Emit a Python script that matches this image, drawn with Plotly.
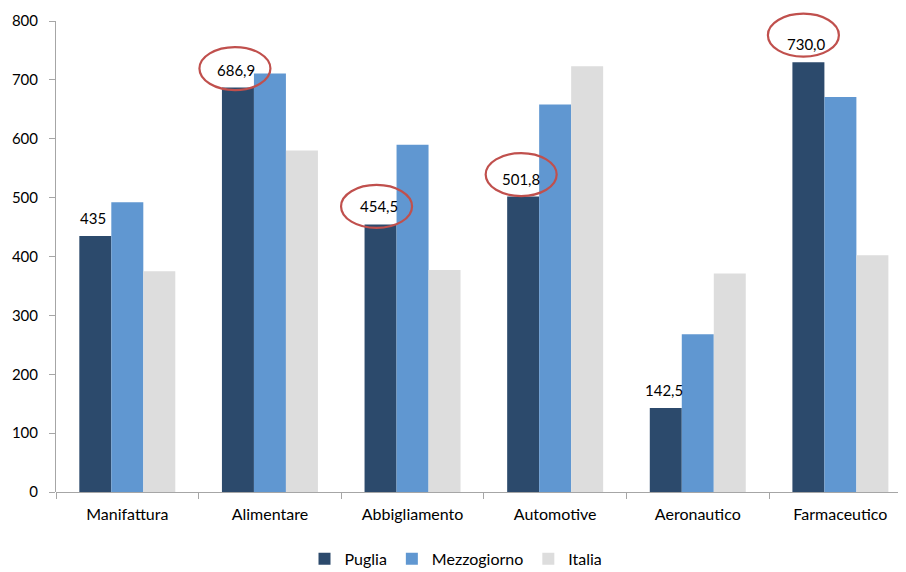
import plotly.graph_objects as go

categories = ["Manifattura", "Alimentare", "Abbigliamento", "Automotive", "Aeronautico", "Farmaceutico"]
puglia = [435, 686.9, 454.5, 501.8, 142.5, 730.0]
mezzogiorno = [492, 711, 590, 658, 268, 671]
italia = [375, 580, 377, 723, 371, 402]
puglia_labels = ["435", "686,9", "454,5", "501,8", "142,5", "730,0"]
circled = [False, True, True, True, False, True]
y_ticks = [0, 100, 200, 300, 400, 500, 600, 700, 800]

FONT = "Lato"
Y_MAX = 800
colors = {"Puglia": "#2C4A6C", "Mezzogiorno": "#6097D1", "Italia": "#DDDDDD"}
BARGAP = 0.327
bar_w = (1 - BARGAP) / 3

fig = go.Figure()
for name, vals in [("Puglia", puglia), ("Mezzogiorno", mezzogiorno), ("Italia", italia)]:
    fig.add_trace(go.Bar(
        x=categories, y=vals, name=name,
        marker=dict(color=colors[name], line=dict(width=0)),
    ))

# per-ellipse small pixel adjustments (dx, dy relative to label centre)
ell_adj = {1: (-1, 1), 2: (-2, 0), 3: (0, 4), 5: (-3, 9)}
for i, (v, lab) in enumerate(zip(puglia, puglia_labels)):
    xc = i - bar_w
    fig.add_annotation(
        x=xc, y=v, xref="x", yref="y", text=lab, showarrow=False,
        yshift=18, xshift=-2, yanchor="middle", xanchor="center",
        font=dict(family=FONT, size=15, color="#000000"),
    )
    if circled[i]:
        dx, dy = ell_adj.get(i, (0, 0))
        # yref paper (axis range 0..Y_MAX spans the full domain) so the
        # ellipse is not clipped at the top of the plot area
        fig.add_shape(
            type="circle", xref="x", yref="paper",
            xsizemode="pixel", ysizemode="pixel",
            xanchor=xc, yanchor=v / Y_MAX,
            x0=-2 + dx - 35.5, x1=-2 + dx + 35.5,
            y0=18 + dy - 21.5, y1=18 + dy + 21.5,
            line=dict(color="#C0504D", width=2.2),
            fillcolor="rgba(0,0,0,0)",
        )

fig.update_layout(
    width=898, height=564,
    margin=dict(l=48, r=0, t=13, b=80, autoexpand=False),
    paper_bgcolor="white", plot_bgcolor="white",
    barmode="group", bargap=BARGAP, bargroupgap=0,
    font=dict(family=FONT, size=16, color="#000000"),
    showlegend=True,
    legend=dict(
        orientation="h", x=0.4706, xanchor="center", y=-0.142, yanchor="middle",
        font=dict(family=FONT, size=16, color="#000000"),
        itemwidth=30, traceorder="normal",
    ),
    xaxis=dict(
        range=[-0.5, 5.46], showgrid=False, zeroline=False, automargin=False,
        showline=False, ticks="outside", tickson="boundaries",
        ticklen=6, tickcolor="#A6A6A6", tickwidth=1,
        ticklabelstandoff=11,
        tickfont=dict(family=FONT, size=16, color="#000000"),
    ),
    yaxis=dict(
        range=[0, Y_MAX], tickvals=y_ticks, showgrid=False, zeroline=True,
        zerolinecolor="#A6A6A6", zerolinewidth=1, automargin=False,
        showline=True, linecolor="#A6A6A6", linewidth=1,
        ticks="outside", ticklen=6, tickcolor="#A6A6A6",
        ticklabelstandoff=8,
        tickfont=dict(family=FONT, size=15, color="#000000"),
    ),
)

fig.write_html("out.html")
